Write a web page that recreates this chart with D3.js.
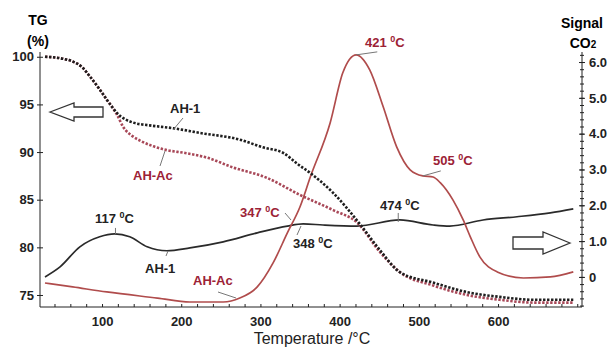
<!DOCTYPE html>
<html lang="en">
<head>
    <meta charset="UTF-8">
    <title>TG and CO2 signal</title>
    <script src="https://d3js.org/d3.v7.min.js"></script>
    <style type="text/css">
        body { margin: 0; background: #fff; }
        text { font-family: "Liberation Sans", Arial, sans-serif; }
        .axis path, .axis line { stroke: #222; }
        .axis text { font-size: 13px; font-weight: bold; fill: #222; }
        .tg { fill: none; stroke-width: 2.6px; stroke-dasharray: 2.4, 1.6; }
        .co2 { fill: none; stroke-width: 1.7px; stroke-linejoin: round; }
        .lbl { font-size: 13px; font-weight: bold; }
        .lead { stroke: #777; stroke-width: 1px; }
    </style>
</head>
<body>
    <script type="text/javascript">
        const width = 610;
        const height = 348;

        // TG curves (%)
        const tgTempAH1 = [28, 50, 63, 75, 85, 96, 106, 113, 120, 128, 139, 160, 190, 224, 274, 303, 329, 346, 363, 392, 426, 451, 476, 518, 561, 602, 645, 695];
        const tgAH1 = [100, 99.8, 99.5, 98.9, 97.9, 96.7, 95.5, 94.7, 94.0, 93.5, 93.1, 92.8, 92.5, 92.0, 91.3, 90.5, 89.9, 88.8, 87.8, 85.7, 82.4, 79.7, 77.4, 76.3, 75.3, 74.8, 74.5, 74.5];
        const tgTempAHAc = [28, 50, 63, 75, 85, 96, 106, 113, 119, 127, 138, 148, 165, 182, 205, 233, 265, 308, 350, 392, 422, 451, 476, 518, 561, 602, 645, 695];
        const tgAHAc = [100, 99.8, 99.5, 98.9, 97.9, 96.7, 95.5, 94.7, 93.9, 92.6, 91.7, 91.2, 90.6, 90.2, 89.9, 89.4, 88.4, 87.3, 85.5, 83.9, 82.6, 79.5, 77.4, 76.0, 75.0, 74.5, 74.2, 74.2];

        // CO2 signal curves
        const co2TempAH1 = [28, 47, 72, 97, 116, 135, 157, 182, 211, 253, 296, 334, 354, 379, 422, 476, 518, 539, 581, 624, 666, 695];
        const co2AH1 = [0, 0.28, 0.84, 1.12, 1.20, 1.12, 0.84, 0.73, 0.81, 0.98, 1.23, 1.42, 1.48, 1.45, 1.42, 1.59, 1.45, 1.42, 1.59, 1.68, 1.79, 1.90];
        const co2TempAHAc = [28, 63, 106, 170, 211, 253, 274, 296, 316, 334, 350, 363, 388, 404, 421, 438, 455, 472, 489, 505, 518, 527, 543, 556, 565, 577, 599, 632, 666, 695];
        const co2AHAc = [-0.17, -0.28, -0.42, -0.59, -0.70, -0.70, -0.59, -0.28, 0.39, 1.23, 1.96, 2.79, 4.30, 5.70, 6.20, 5.78, 4.75, 3.63, 2.99, 2.82, 2.79, 2.63, 2.15, 1.59, 1.12, 0.56, 0.14, -0.03, 0, 0.14];

        const xTicks = [100, 200, 300, 400, 500, 600];
        const tgTicks = [75, 80, 85, 90, 95, 100];
        const co2Ticks = [0, 1, 2, 3, 4, 5, 6];

        const red = "#b04c4c";
        const redText = "#9c2236";

        const svg = d3.select("body")
            .append("svg")
            .attr("width", width)
            .attr("height", height);

        const x = d3.scaleLinear().domain([21.7, 706]).range([40, 582]);
        const yTG = d3.scaleLinear().domain([73.74, 100.5]).range([307, 52]);
        const yCO2 = d3.scaleLinear().domain([-0.84, 6.28]).range([307, 52]);

        // axes
        svg.append("g")
            .attr("class", "axis")
            .attr("transform", "translate(0,307)")
            .call(d3.axisBottom(x).tickValues(d3.range(40, 701, 20)).tickSize(-3).tickFormat(""))
            .call(g => g.select(".domain").attr("d", "M40,0H582"));
        svg.append("g")
            .attr("class", "axis")
            .attr("transform", "translate(0,307)")
            .call(d3.axisBottom(x).tickValues(xTicks).tickSize(0).tickPadding(10))
            .call(g => g.select(".domain").remove());

        svg.append("g")
            .attr("class", "axis")
            .attr("transform", "translate(40,0)")
            .call(d3.axisLeft(yTG).tickValues(tgTicks).tickSize(3).tickPadding(3))
            .call(g => g.select(".domain").attr("d", "M0,52V307"))
            .call(g => g.selectAll(".tick line").attr("x2", 3).attr("x1", -3));

        svg.append("g")
            .attr("class", "axis")
            .attr("transform", "translate(582,0)")
            .call(d3.axisRight(yCO2).tickValues(d3.range(-0.8, 6.21, 0.2)).tickSize(2).tickFormat(""))
            .call(g => g.select(".domain").attr("d", "M0,52V307"))
            .call(g => g.selectAll(".tick line").attr("x1", -2));
        svg.append("g")
            .attr("class", "axis")
            .attr("transform", "translate(582,0)")
            .call(d3.axisRight(yCO2).tickValues(co2Ticks).tickSize(3).tickPadding(4)
                .tickFormat(d => d === 0 ? "0" : d3.format(".1f")(d)))
            .call(g => g.select(".domain").remove())
            .call(g => g.selectAll(".tick line").attr("x1", -3));

        // axis titles
        svg.append("text").attr("x", 38).attr("y", 25).attr("text-anchor", "middle")
            .style("font-size", "14px").style("font-weight", "bold").text("TG");
        svg.append("text").attr("x", 38).attr("y", 46).attr("text-anchor", "middle")
            .style("font-size", "14px").style("font-weight", "bold").text("(%)");
        svg.append("text").attr("x", 582).attr("y", 28).attr("text-anchor", "middle")
            .style("font-size", "14px").style("font-weight", "bold").text("Signal");
        svg.append("text").attr("x", 583).attr("y", 48).attr("text-anchor", "middle")
            .style("font-size", "14px").style("font-weight", "bold")
            .text("CO").append("tspan").style("font-size", "10px").text("2");
        svg.append("text").attr("x", 312).attr("y", 344).attr("text-anchor", "middle")
            .style("font-size", "16px").style("fill", "#222").text("Temperature /°C");

        // curves
        const lineTG = d3.line().x(d => x(d[0])).y(d => yTG(d[1])).curve(d3.curveMonotoneX);
        const lineCO2 = d3.line().x(d => x(d[0])).y(d => yCO2(d[1])).curve(d3.curveMonotoneX);

        svg.append("path").datum(d3.zip(co2TempAH1, co2AH1))
            .attr("class", "co2").attr("stroke", "#2a2a2a").attr("d", lineCO2);
        svg.append("path").datum(d3.zip(co2TempAHAc, co2AHAc))
            .attr("class", "co2").attr("stroke", red).attr("d", lineCO2);
        svg.append("path").datum(d3.zip(tgTempAHAc, tgAHAc))
            .attr("class", "tg").attr("stroke", "#a84858").attr("d", lineTG);
        svg.append("path").datum(d3.zip(tgTempAH1, tgAH1))
            .attr("class", "tg").attr("stroke", "#1e1e1e").attr("d", lineTG);

        // arrows
        svg.append("path")
            .attr("d", "M50,112 L74,103 L74,107 L103,107 L103,117 L74,117 L74,121 Z")
            .attr("fill", "#fff").attr("stroke", "#333").attr("stroke-width", 1.3);
        svg.append("path")
            .attr("d", "M570,243 L543,232 L543,237 L513,237 L513,249 L543,249 L543,254 Z")
            .attr("fill", "#fff").attr("stroke", "#333").attr("stroke-width", 1.3);

        // annotations
        function tempLabel(px, py, num, color) {
            const t = svg.append("text").attr("class", "lbl").attr("x", px).attr("y", py).attr("fill", color);
            t.append("tspan").text(num + " ");
            t.append("tspan").attr("dy", -5).style("font-size", "9px").text("0");
            t.append("tspan").attr("dy", 5).text("C");
        }
        function lead(x1, y1, x2, y2) {
            svg.append("line").attr("class", "lead")
                .attr("x1", x1).attr("y1", y1).attr("x2", x2).attr("y2", y2);
        }

        tempLabel(365, 47, "421", redText);
        lead(x(421), yCO2(6.2), x(421) + 21, yCO2(6.2) - 3);
        tempLabel(433, 165, "505", redText);
        lead(x(505), yCO2(2.82), x(505) + 18, yCO2(2.82) - 5);
        tempLabel(380, 210, "474", "#222");
        lead(x(474), yCO2(1.59) - 7, x(474), yCO2(1.59) + 2);
        tempLabel(95, 223, "117", "#222");
        lead(x(117), yCO2(1.2) - 6, x(117), yCO2(1.2));
        tempLabel(240, 217, "347", redText);
        lead(285, 213, 291, 220);
        tempLabel(293, 248, "348", "#222");
        lead(297, 235, 301, 226);

        svg.append("text").attr("class", "lbl").attr("x", 145).attr("y", 273).attr("fill", "#222").text("AH-1");
        lead(166, 256, 168, 251);
        svg.append("text").attr("class", "lbl").attr("x", 193).attr("y", 285).attr("fill", redText).text("AH-Ac");
        lead(218, 292, 236, 298);
        svg.append("text").attr("class", "lbl").attr("x", 170).attr("y", 113).attr("fill", "#222").text("AH-1");
        lead(183, 118, 173, 130);
        svg.append("text").attr("class", "lbl").attr("x", 133).attr("y", 180).attr("fill", redText).text("AH-Ac");
        lead(160, 166, 165, 151);
    </script>
</body>
</html>
